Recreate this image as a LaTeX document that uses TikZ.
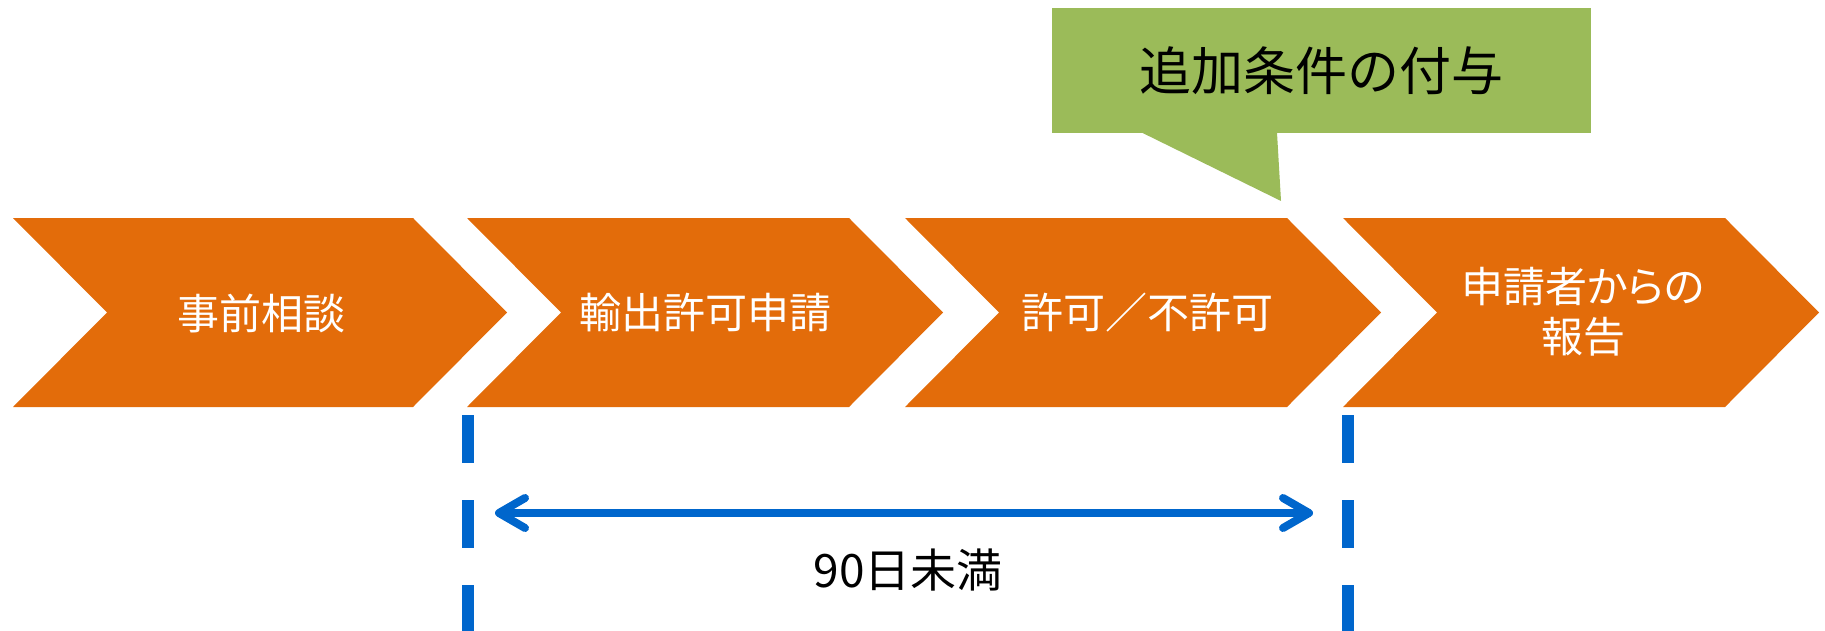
\documentclass[tikz,border=0pt]{standalone}
\usepackage{fontspec}
\setmainfont{Noto Sans CJK JP}
\newfontfamily\jpprop[RawFeature=+palt]{Noto Sans CJK JP}
\usetikzlibrary{arrows.meta}
\definecolor{ChevClr}{RGB}{227,108,10}
\definecolor{NoteClr}{RGB}{155,187,89}
\definecolor{SpanClr}{RGB}{0,102,204}

\begin{document}
\begin{tikzpicture}[x=1pt,y=-1pt,
  chev/.style={fill=ChevClr},
  steplabel/.style={text=white,inner sep=0pt,align=center,
    font=\fontsize{42}{50}\selectfont},
  notebox/.style={fill=NoteClr,inner sep=0pt,minimum width=539pt,
    minimum height=125pt,font=\fontsize{52}{60}\selectfont},
  spanline/.style={draw=SpanClr,line width=12pt,dash pattern=on 48pt off 37pt},
  spanarrow/.style={draw=SpanClr,line width=8pt,
    {Straight Barb[round,length=26pt,width=30pt]}-{Straight Barb[round,length=26pt,width=30pt]}},
  spanlabel/.style={inner sep=0pt,font=\fontsize{46}{54}\selectfont}]
\useasboundingbox (0,0) rectangle (1825,631);

% the four steps
\fill[chev] (13,218) -- (413,218) -- (507,312.5) -- (413,407) -- (13,407) -- (107,312.5) -- cycle;
\fill[chev] (467,218) -- (849,218) -- (943,312.5) -- (849,407) -- (467,407) -- (561,312.5) -- cycle;
\fill[chev] (905,218) -- (1287,218) -- (1381,312.5) -- (1287,407) -- (905,407) -- (999,312.5) -- cycle;
\fill[chev] (1343,218) -- (1725,218) -- (1819,312.5) -- (1725,407) -- (1343,407) -- (1437,312.5) -- cycle;

\node[steplabel] (consult) at (261,313) {事前相談};
\node[steplabel] (apply) at (705,313) {輸出許可申請};
\node[steplabel] (decide) at (1147,313) {許可／不許可};
\node[steplabel] (report) at (1583,312) {\jpprop 申請者からの\\\jpprop 報告};

% callout
\node[notebox] (cond) at (1321.5,70.5) {追加条件の付与};
\coordinate (tip) at (1281,201);
\fill[NoteClr] ([xshift=-179.5pt,yshift=0.5pt]cond.south) -- (tip)
  -- ([xshift=-44.5pt,yshift=0.5pt]cond.south) -- cycle;

% period
\coordinate (limL) at (468,415);
\coordinate (limLend) at (468,640);
\coordinate (limR) at (1348,415);
\coordinate (limRend) at (1348,640);
\draw[spanline] (limL) -- (limLend);
\draw[spanline] (limR) -- (limRend);

\coordinate (arrL) at (495,513);
\coordinate (arrR) at (1313,513);
\draw[spanarrow] (arrL) -- (arrR);
\node[spanlabel] (days) at (908,570) {90日未満};

\end{tikzpicture}
\end{document}
